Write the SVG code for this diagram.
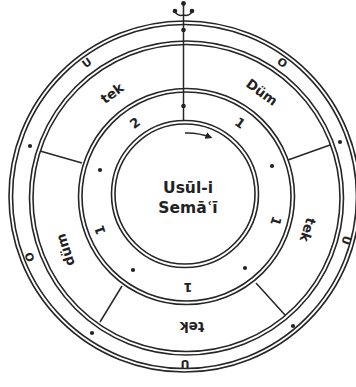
<svg xmlns="http://www.w3.org/2000/svg" width="356" height="387" viewBox="0 0 356 387">
<style>
.ring{fill:none;stroke:#262626;stroke-width:1.6}
.ln{fill:none;stroke:#262626;stroke-width:1.5}
.dot{fill:#222}
.lbl{font-family:"DejaVu Sans",sans-serif;font-weight:bold;font-size:13.5px;fill:#222;text-anchor:middle;dominant-baseline:central}
.sm{font-family:"DejaVu Sans",sans-serif;font-weight:bold;font-size:11px;fill:#222;text-anchor:middle;dominant-baseline:central}
.num{font-family:"DejaVu Sans",sans-serif;font-weight:bold;font-size:13px;fill:#222;text-anchor:middle;dominant-baseline:central}
.ctr{font-family:"DejaVu Sans",sans-serif;font-weight:bold;font-size:15.5px;fill:#222;text-anchor:middle}
</style>
<defs>
<marker id="ah" viewBox="0 0 10 10" refX="8" refY="5" markerWidth="7" markerHeight="7" markerUnits="userSpaceOnUse" orient="auto">
<path d="M0,0 L10,5 L0,10 z" fill="#222"/>
</marker>
</defs>
<rect width="356" height="387" fill="#fff"/>
<g id="rings">
<g id="outer-ring"><circle class="ring" cx="184.5" cy="196.5" r="175.5"/><circle class="ring" cx="184.5" cy="196.5" r="172"/></g>
<g id="ring2"><circle class="ring" cx="186.5" cy="198" r="157"/><circle class="ring" cx="186.5" cy="198" r="153.5"/></g>
<g id="ring3"><circle class="ring" cx="186.5" cy="196.5" r="108"/><circle class="ring" cx="186.5" cy="196.5" r="104.5"/></g>
<g id="inner-ring"><circle class="ring" cx="185" cy="194" r="73.5"/><circle class="ring" cx="185" cy="194" r="70"/></g>
</g>
<g id="connectors">
<line class="ln" x1="183.5" y1="3" x2="183.5" y2="120.5"/>
<path class="ln" d="M175,11 C176,15 180,16 183.5,15 M192,11 C191,15 187,16 183.5,15"/>
<line class="ln" x1="40" y1="151" x2="82" y2="163"/>
<line class="ln" x1="288" y1="160" x2="330" y2="145"/>
<line class="ln" x1="122" y1="286" x2="100" y2="322"/>
<line class="ln" x1="256" y1="283" x2="285" y2="315"/>
<path class="ln" d="M185,133 A64,64 0 0 1 211,137.5" marker-end="url(#ah)"/>
</g>
<g id="dots">
<circle class="dot" cx="183.5" cy="3.5" r="2.4"/>
<circle class="dot" cx="175" cy="11" r="2.3"/>
<circle class="dot" cx="192" cy="11" r="2.3"/>
<circle class="dot" cx="183.5" cy="30" r="2.3"/>
<circle class="dot" cx="183.5" cy="106" r="2.3"/>
<circle class="dot" cx="340" cy="142" r="2.1"/>
<circle class="dot" cx="30" cy="146" r="2.1"/>
<circle class="dot" cx="92" cy="333" r="2.1"/>
<circle class="dot" cx="293" cy="326" r="2.1"/>
<circle class="dot" cx="272" cy="166" r="2.1"/>
<circle class="dot" cx="100" cy="170" r="2.1"/>
<circle class="dot" cx="133" cy="270" r="2.1"/>
<circle class="dot" cx="245" cy="268" r="2.1"/>
</g>
<g id="outer-band">
<text class="sm" transform="translate(87,63) rotate(-36)">U</text>
<text class="sm" transform="translate(282,63) rotate(36)">O</text>
<text class="sm" transform="translate(346,240) rotate(108)">U</text>
<text class="sm" transform="translate(185,363) rotate(180)">U</text>
<text class="sm" transform="translate(30,257) rotate(252)">O</text>
</g>
<g id="middle-band">
<text class="lbl" transform="translate(262,92) rotate(36)">Düm</text>
<text class="lbl" transform="translate(112,93) rotate(-36)">tek</text>
<text class="lbl" transform="translate(308,230) rotate(108)">tek</text>
<text class="lbl" transform="translate(192,327) rotate(180)">tek</text>
<text class="lbl" transform="translate(65,250) rotate(252)">düm</text>
</g>
<g id="inner-band">
<text class="num" transform="translate(135,123) rotate(-36)">2</text>
<text class="num" transform="translate(240,123) rotate(36)">1</text>
<text class="num" transform="translate(276,221) rotate(108)">1</text>
<text class="num" transform="translate(188,287) rotate(180)">1</text>
<text class="num" transform="translate(100,230) rotate(252)">1</text>
</g>
<g id="center">
<text class="ctr" x="188" y="193">Usūl-i</text>
<text class="ctr" x="188" y="213">Semāʿī</text>
</g>
</svg>
